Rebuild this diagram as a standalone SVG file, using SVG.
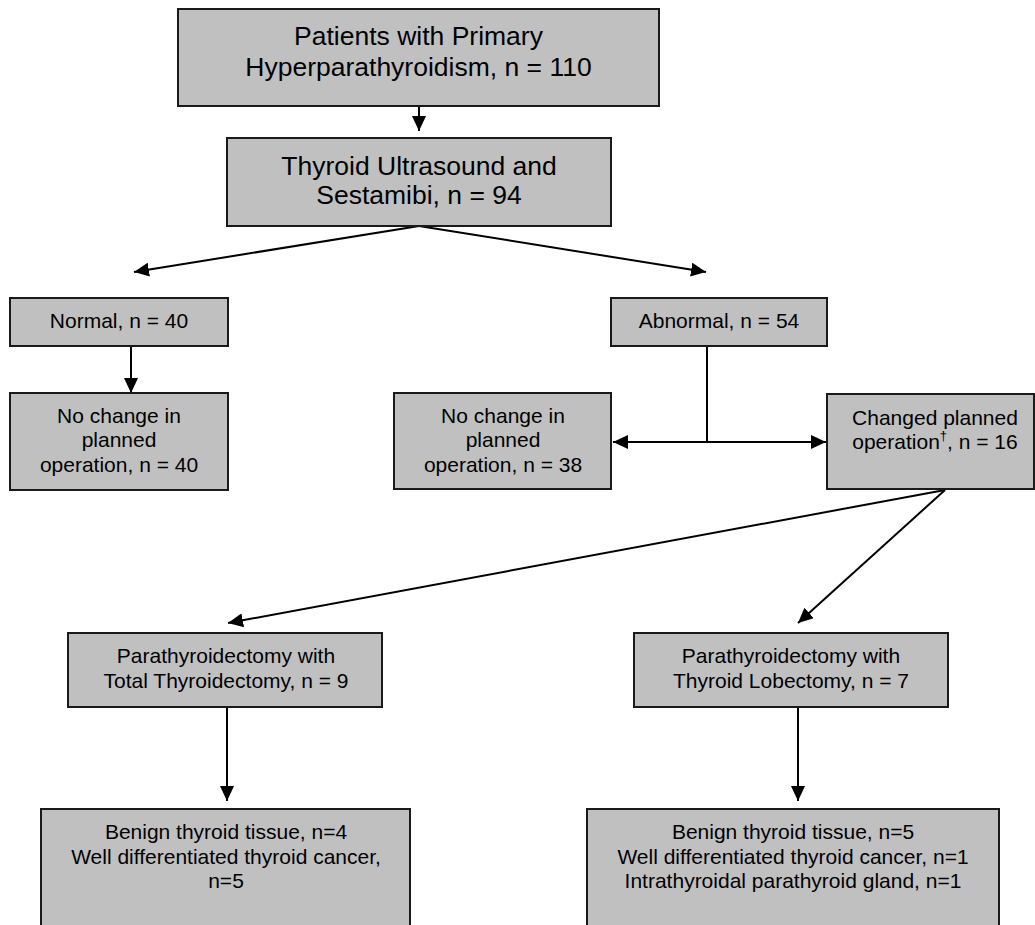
<svg xmlns="http://www.w3.org/2000/svg" width="1035" height="925" viewBox="0 0 1035 925">
<defs>
<marker id="ah" markerUnits="userSpaceOnUse" markerWidth="16" markerHeight="14" refX="15" refY="7" orient="auto-start-reverse">
<path d="M0,0 L15,7 L0,14 Z" fill="#000"/>
</marker>
</defs>
<style>
.box{fill:#c0c0c0;stroke:#1a1a1a;stroke-width:2}
.big{font-family:"Liberation Sans",Arial,sans-serif;font-size:26.5px;fill:#000;text-anchor:middle}
.sm{font-family:"Liberation Sans",Arial,sans-serif;font-size:21px;fill:#000;text-anchor:middle}
.ln{stroke:#000;stroke-width:2;fill:none}
</style>
<rect width="1035" height="925" fill="#fff"/>
<g id="connectors">
<line class="ln" x1="419" y1="106" x2="419" y2="131" marker-end="url(#ah)"/>
<line class="ln" x1="419" y1="226" x2="134" y2="272" marker-end="url(#ah)"/>
<line class="ln" x1="419" y1="226" x2="706" y2="272" marker-end="url(#ah)"/>
<line class="ln" x1="131" y1="346" x2="131" y2="393" marker-end="url(#ah)"/>
<line class="ln" x1="707" y1="346" x2="707" y2="442"/>
<line class="ln" x1="613" y1="442" x2="826" y2="442" marker-start="url(#ah)" marker-end="url(#ah)"/>
<line class="ln" x1="945" y1="490" x2="228" y2="623" marker-end="url(#ah)"/>
<line class="ln" x1="945" y1="490" x2="798" y2="623" marker-end="url(#ah)"/>
<line class="ln" x1="227" y1="707" x2="227" y2="801" marker-end="url(#ah)"/>
<line class="ln" x1="798" y1="707" x2="798" y2="801" marker-end="url(#ah)"/>
</g>
<g id="n_patients">
<rect class="box" x="178" y="9" width="481" height="97"/>
<text class="big" x="418.5" y="45">Patients with Primary</text>
<text class="big" x="418.5" y="76">Hyperparathyroidism, n = 110</text>
</g>
<g id="n_ultrasound">
<rect class="box" x="227" y="138" width="384" height="88"/>
<text class="big" x="419" y="175">Thyroid Ultrasound and</text>
<text class="big" x="419" y="204">Sestamibi, n = 94</text>
</g>
<g id="n_normal">
<rect class="box" x="10" y="298" width="218" height="48"/>
<text class="sm" x="119" y="328">Normal, n = 40</text>
</g>
<g id="n_abnormal">
<rect class="box" x="611" y="298" width="216" height="48"/>
<text class="sm" x="719" y="328">Abnormal, n = 54</text>
</g>
<g id="n_nochange40">
<rect class="box" x="10" y="393" width="218" height="97"/>
<text class="sm" x="119" y="423">No change in</text>
<text class="sm" x="119" y="447">planned</text>
<text class="sm" x="119" y="472">operation, n = 40</text>
</g>
<g id="n_nochange38">
<rect class="box" x="394" y="393" width="217" height="96"/>
<text class="sm" x="503" y="423">No change in</text>
<text class="sm" x="503" y="447">planned</text>
<text class="sm" x="503" y="472">operation, n = 38</text>
</g>
<g id="n_changed">
<rect class="box" x="827" y="394" width="207" height="95"/>
<text class="sm" x="935" y="425">Changed planned</text>
<text class="sm" x="935" y="449">operation<tspan font-size="13" dy="-9">†</tspan><tspan dy="9">, n = 16</tspan></text>
</g>
<g id="n_total">
<rect class="box" x="68" y="633" width="314" height="74"/>
<text class="sm" x="226" y="663">Parathyroidectomy with</text>
<text class="sm" x="226" y="688">Total Thyroidectomy, n = 9</text>
</g>
<g id="n_lobectomy">
<rect class="box" x="634" y="633" width="314" height="74"/>
<text class="sm" x="791" y="663">Parathyroidectomy with</text>
<text class="sm" x="791" y="688">Thyroid Lobectomy, n = 7</text>
</g>
<g id="n_total_result">
<rect class="box" x="41" y="809" width="369" height="130"/>
<text class="sm" x="226" y="839">Benign thyroid tissue, n=4</text>
<text class="sm" x="226" y="864">Well differentiated thyroid cancer,</text>
<text class="sm" x="226" y="888">n=5</text>
</g>
<g id="n_lobectomy_result">
<rect class="box" x="587" y="809" width="412" height="130"/>
<text class="sm" x="793" y="839">Benign thyroid tissue, n=5</text>
<text class="sm" x="793" y="864">Well differentiated thyroid cancer, n=1</text>
<text class="sm" x="793" y="888">Intrathyroidal parathyroid gland, n=1</text>
</g>
</svg>
